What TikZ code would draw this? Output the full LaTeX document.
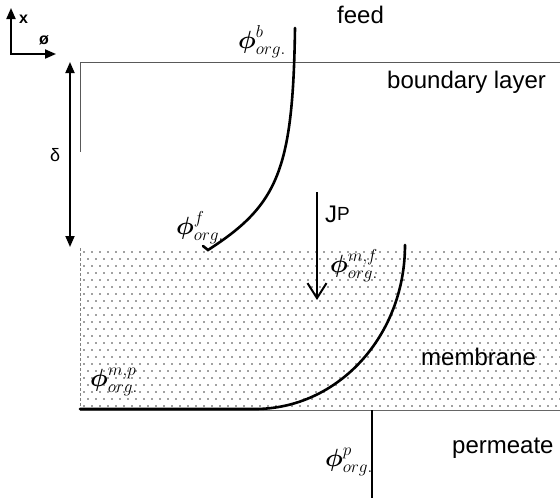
\documentclass[tikz,border=0pt]{standalone}
\usepackage{amsmath}
\usepackage{fontspec}
\setmainfont{Liberation Sans}
\usetikzlibrary{arrows.meta}
\begin{document}
\begin{tikzpicture}[x=1pt,y=-1pt,
  thickcurve/.style={line width=2.6pt, line cap=round},
  thinedge/.style={draw=black!65, line width=0.8pt},
  phil/.style={font=\fontsize{25}{28}\selectfont, inner sep=0pt},
  sansl/.style={font=\fontsize{24}{26}\selectfont, inner sep=0pt, anchor=base west},
  tri/.tip={Triangle[length=11pt,width=9pt]}
]
\useasboundingbox (0,0) rectangle (560,498);
% membrane dots
\foreach \j in {0,...,22}{
  \foreach \i in {0,...,59}{
    \fill[black!75] ({84+8*\i+4*mod(\j,2)},{252+7*\j}) circle (0.85);
  }
}
% coordinates
\coordinate (tl) at (80,62);
\coordinate (tr) at (560,62);
\coordinate (bl) at (80,152);
\coordinate (ml) at (80,248);
\coordinate (mbl) at (80,410);
\coordinate (mbr) at (560,410);
\coordinate (d1) at (70,62);
\coordinate (d2) at (70,247);
\coordinate (o) at (11,54);
\coordinate (ox) at (56,54);
\coordinate (oy) at (11,8);
\coordinate (c1a) at (295,28);
\coordinate (c1b) at (208,250);
\coordinate (c1c) at (203,246);
\coordinate (j1) at (317,192);
\coordinate (j2) at (317,300);
\coordinate (c2a) at (405,245);
\coordinate (c2b) at (255,409);
\coordinate (c2c) at (80,409);
\coordinate (p1) at (372,410);
\coordinate (p2) at (372,498);
% boundary lines
\draw[thinedge] (tr) -- (tl) -- (bl);
\draw[draw=black!50, line width=0.6pt, densely dashed] (ml) -- (mbl);
\draw[draw=black!60, line width=1pt] (mbl) -- (mbr);
% axes
\draw[line width=2pt, tri-tri] (oy) -- (o) -- (ox);
% delta arrow
\draw[line width=1.8pt, tri-tri] (d1) -- (d2);
% concentration curves
\draw[thickcurve] (c1a) .. controls (293,170) and (278,205) .. (c1b) -- (c1c);
\draw[thickcurve] (c2a) .. controls (405,336) and (338,409) .. (c2b) -- (c2c);
% flux arrow
\draw[line width=2pt, -{Straight Barb[length=15pt,width=19pt,line width=2pt]}] (j1) -- (j2);
% permeate line
\draw[line width=2.6pt] (p1) -- (p2);
% labels
\node[phil] (pb) at (262,42) {$\boldsymbol{\phi}^{b}_{org.}$};
\node[phil] (pf) at (200,228) {$\boldsymbol{\phi}^{f}_{org.}$};
\node[phil] (pmf) at (354,266) {$\boldsymbol{\phi}^{m,f}_{org.}$};
\node[phil] (pmp) at (114,382) {$\boldsymbol{\phi}^{m,p}_{org.}$};
\node[phil] (pp) at (349,462) {$\boldsymbol{\phi}^{p}_{org.}$};
\node[sansl] (feed) at (337,23) {feed};
\node[sansl] (bl) at (387,88) {boundary layer};
\node[sansl] (mem) at (421,365) {membrane};
\node[sansl] (perm) at (452,453) {permeate};
\node[sansl] (jp) at (325,222) {J\raisebox{2pt}{\fontsize{19}{20}\selectfont P}};
\node[sansl, font=\fontsize{18}{19}\selectfont] (delta) at (50,161) {δ};
\node[sansl, font=\bfseries\fontsize{16}{18}\selectfont] (xl) at (19,23) {x};
\node[sansl, font=\bfseries\fontsize{16}{18}\selectfont] (phl) at (39,44) {ø};
\end{tikzpicture}
\end{document}
